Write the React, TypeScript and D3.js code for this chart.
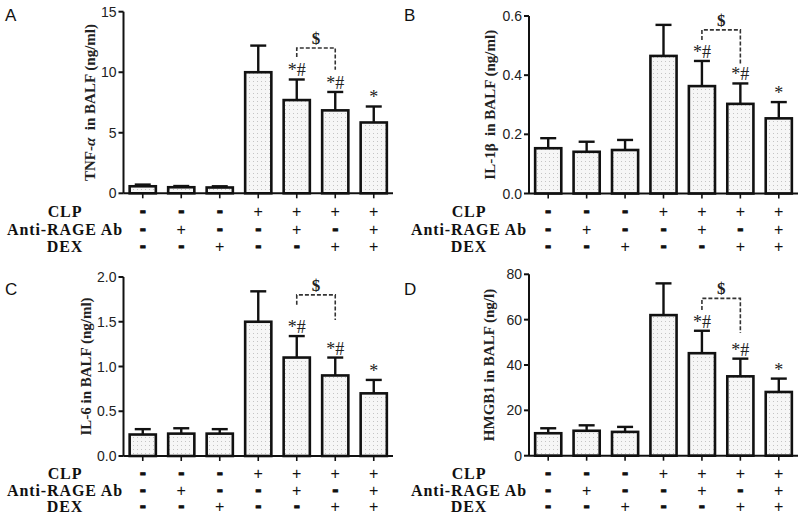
import * as d3 from "d3";

// treatment design (one entry per group)
const groups = ["g1", "g2", "g3", "g4", "g5", "g6", "g7"];
const clpRow = ["-", "-", "-", "+", "+", "+", "+"];
const antiRageRow = ["-", "+", "-", "-", "+", "-", "+"];
const dexRow = ["-", "-", "+", "-", "-", "+", "+"];
const rowNames = ["CLP", "Anti-RAGE Ab", "DEX"];

const marks = ["", "", "", "", "*#", "*#", "*"];

// A: TNF-alpha
const tnfMean = [0.58, 0.5, 0.48, 10.0, 7.7, 6.85, 5.85];
const tnfSd = [0.14, 0.1, 0.1, 2.2, 1.7, 1.52, 1.32];
const tnfTicks = [0, 5, 10, 15];
const tnfBracket = [12.0, 11.26, 10.2]; // top, left end, right end

// B: IL-1beta
const il1Mean = [0.153, 0.141, 0.147, 0.465, 0.363, 0.303, 0.254];
const il1Sd = [0.034, 0.034, 0.034, 0.105, 0.085, 0.069, 0.055];
const il1Ticks = [0, 0.2, 0.4, 0.6];
const il1Bracket = [0.553, 0.519, 0.434];

// C: IL-6
const il6Mean = [0.24, 0.25, 0.25, 1.5, 1.1, 0.9, 0.7];
const il6Sd = [0.06, 0.06, 0.05, 0.34, 0.24, 0.2, 0.15];
const il6Ticks = [0, 0.5, 1.0, 1.5, 2.0];
const il6Bracket = [1.8, 1.69, 1.52];

// D: HMGB1
const hmgMean = [9.9, 11.0, 10.5, 62.0, 45.2, 35.0, 28.1];
const hmgSd = [2.2, 2.4, 2.2, 14.0, 9.9, 7.8, 5.9];
const hmgTicks = [0, 20, 40, 60, 80];
const hmgBracket = [69.4, 64.3, 54.1];

const SANS = "'Liberation Sans', Arial, sans-serif";
const SERIF = "'Liberation Serif', 'Times New Roman', serif";

interface PanelProps {
  letter: string;
  mean: number[];
  sd: number[];
  ticks: number[];
  fmt: (v: number) => string;
  bracket: number[];
  title: React.ReactNode;
  x0: number;
  x1: number;
  yTop: number;
  yZero: number;
  titleX: number;
  rowY: number[];
  rowLabelX: number;
  letterX: number;
  letterY: number;
}

function Panel(p: PanelProps) {
  const x = d3.scaleBand<string>().domain(groups).range([p.x0, p.x1]).paddingInner(0.32).paddingOuter(0.16);
  const yMax = p.ticks[p.ticks.length - 1];
  const y = d3.scaleLinear().domain([0, yMax]).range([p.yZero, p.yTop]);
  const bw = x.bandwidth();
  const cx = (g: string) => (x(g) ?? 0) + bw / 2;
  const rows = [clpRow, antiRageRow, dexRow];

  const lx = cx(groups[4]);
  const rx = cx(groups[5]);
  const [bTop, bLeft, bRight] = p.bracket;

  return (
    <g>
      <text x={p.letterX} y={p.letterY} fontFamily={SANS} fontSize={17} fill="#111">
        {p.letter}
      </text>

      {/* bars */}
      {groups.map((g, i) => (
        <rect
          key={g}
          x={x(g)}
          y={y(p.mean[i])}
          width={bw}
          height={y(0) - y(p.mean[i])}
          fill="url(#dots)"
          stroke="#111"
          strokeWidth={2.6}
        />
      ))}

      {/* upper error bars */}
      {groups.map((g, i) => {
        const top = y(p.mean[i] + p.sd[i]);
        return (
          <g key={g} stroke="#111" strokeWidth={2.4}>
            <line x1={cx(g)} x2={cx(g)} y1={y(p.mean[i])} y2={top} />
            <line x1={cx(g) - 8} x2={cx(g) + 8} y1={top} y2={top} />
          </g>
        );
      })}

      {/* significance marks */}
      {groups.map((g, i) =>
        marks[i] ? (
          <text
            key={g}
            x={cx(g)}
            y={y(p.mean[i] + p.sd[i]) - 3}
            textAnchor="middle"
            fontFamily={SERIF}
            fontSize={18}
            fill="#222"
          >
            {marks[i]}
          </text>
        ) : null
      )}

      {/* $ bracket */}
      <path
        d={`M${lx},${y(bLeft)}V${y(bTop)}H${rx}V${y(bRight)}`}
        fill="none"
        stroke="#333"
        strokeWidth={1.6}
        strokeDasharray="4 2"
      />
      <text
        x={(lx + rx) / 2}
        y={y(bTop) - 4}
        textAnchor="middle"
        fontFamily={SERIF}
        fontWeight="bold"
        fontSize={17}
        fill="#222"
      >
        $
      </text>

      {/* y axis */}
      <line x1={p.x0} x2={p.x0} y1={p.yZero} y2={p.yTop} stroke="#111" strokeWidth={2} />
      {p.ticks.map((t) => (
        <g key={t}>
          <line x1={p.x0 - 5} x2={p.x0} y1={y(t)} y2={y(t)} stroke="#111" strokeWidth={2} />
          <text
            x={p.x0 - 7}
            y={y(t)}
            dy="0.36em"
            textAnchor="end"
            fontFamily={SANS}
            fontSize={14}
            fill="#222"
          >
            {p.fmt(t)}
          </text>
        </g>
      ))}

      {/* x axis */}
      <line x1={p.x0} x2={p.x1} y1={p.yZero} y2={p.yZero} stroke="#111" strokeWidth={2} />
      {groups.map((g) => (
        <line key={g} x1={cx(g)} x2={cx(g)} y1={p.yZero} y2={p.yZero + 5} stroke="#111" strokeWidth={1.6} />
      ))}

      {/* y title */}
      <text
        transform={`translate(${p.titleX},${(p.yZero + p.yTop) / 2}) rotate(-90)`}
        textAnchor="middle"
        dy="0.35em"
        fontFamily={SERIF}
        fontWeight="bold"
        fontSize={15}
        fill="#222"
      >
        {p.title}
      </text>

      {/* treatment table */}
      {rowNames.map((name, r) => (
        <g key={name}>
          <text
            x={p.rowLabelX}
            y={p.rowY[r]}
            dy="0.35em"
            textAnchor="middle"
            fontFamily={SERIF}
            fontWeight="bold"
            fontSize={16}
            letterSpacing={0.9}
            fill="#111"
          >
            {name}
          </text>
          {groups.map((g, i) =>
            rows[r][i] === "+" ? (
              <text key={g} x={cx(g)} y={p.rowY[r]} dy="0.36em" textAnchor="middle" fontFamily={SANS} fontSize={16} fill="#111">
                +
              </text>
            ) : (
              <text
                key={g}
                x={cx(g)}
                y={p.rowY[r]}
                dy="0.3em"
                textAnchor="middle"
                fontFamily="'DejaVu Sans', sans-serif"
                fontWeight="bold"
                fontSize={15}
                fill="#111"
                stroke="#111"
                strokeWidth={0.9}
              >
                -
              </text>
            )
          )}
        </g>
      ))}
    </g>
  );
}

const f0 = (v: number) => d3.format("d")(v);
const f1 = (v: number) => d3.format(".1f")(v);

export default function App() {
  return (
    <div style={{ position: "absolute", left: 0, top: 0 }}>
      <svg width={800} height={519} style={{ display: "block", background: "#fff" }}>
        <defs>
          <pattern id="dots" width={4} height={4} patternUnits="userSpaceOnUse">
            <rect width={4} height={4} fill="#f6f6f6" />
            <rect x={1} y={1} width={1} height={1} fill="#c4c4c4" />
          </pattern>
        </defs>
        <Panel
          letter="A"
          mean={tnfMean}
          sd={tnfSd}
          ticks={tnfTicks}
          fmt={f0}
          bracket={tnfBracket}
          title={
            <>
              TNF-<tspan fontStyle="italic">α</tspan>{"\u00a0\u00a0"}in BALF (ng/ml)
            </>
          }
          x0={123.5}
          x1={393}
          yTop={11.7}
          yZero={193.3}
          titleX={90}
          rowY={[211.7, 229.3, 246.7]}
          rowLabelX={65}
          letterX={5}
          letterY={21}
        />
        <Panel
          letter="B"
          mean={il1Mean}
          sd={il1Sd}
          ticks={il1Ticks}
          fmt={f1}
          bracket={il1Bracket}
          title={<>IL-1β{"\u00a0\u00a0"}in BALF (ng/ml)</>}
          x0={529}
          x1={798}
          yTop={16}
          yZero={193.5}
          titleX={490}
          rowY={[211.7, 229.3, 246.7]}
          rowLabelX={469}
          letterX={404}
          letterY={21}
        />
        <Panel
          letter="C"
          mean={il6Mean}
          sd={il6Sd}
          ticks={il6Ticks}
          fmt={f1}
          bracket={il6Bracket}
          title={<>IL-6 in BALF (ng/ml)</>}
          x0={123.5}
          x1={393}
          yTop={277}
          yZero={456}
          titleX={86}
          rowY={[473.3, 490, 506.7]}
          rowLabelX={65}
          letterX={5}
          letterY={295}
        />
        <Panel
          letter="D"
          mean={hmgMean}
          sd={hmgSd}
          ticks={hmgTicks}
          fmt={f0}
          bracket={hmgBracket}
          title={<>HMGB1 in BALF (ng/l)</>}
          x0={529}
          x1={798}
          yTop={274.3}
          yZero={455.7}
          titleX={489}
          rowY={[473.3, 490, 506.7]}
          rowLabelX={469}
          letterX={404}
          letterY={295}
        />
      </svg>
    </div>
  );
}
